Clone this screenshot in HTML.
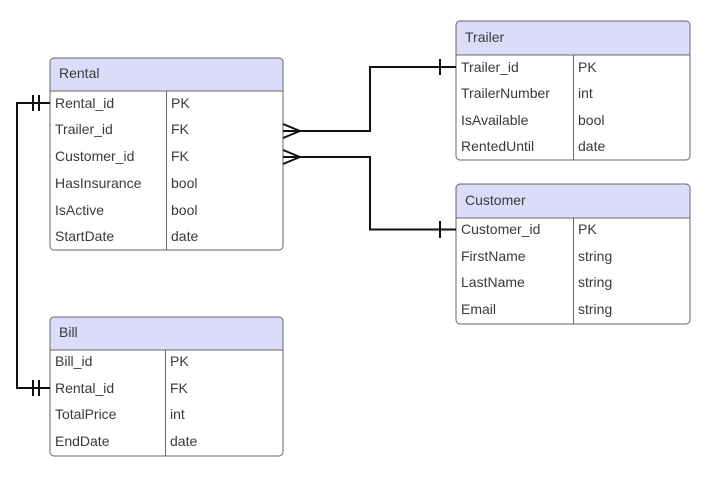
<!DOCTYPE html>
<html><head><meta charset="utf-8"><style>
html,body{margin:0;padding:0;background:#fff;}
svg{display:block;}
text{font-family:"Liberation Sans",sans-serif;font-size:14px;fill:#3a3a3a;}
</style></head><body>
<svg width="707" height="477" viewBox="0 0 707 477" xmlns="http://www.w3.org/2000/svg">
<!-- Rental -->
<g>
<path d="M50,91 V62 a4,4 0 0 1 4,-4 H279 a4,4 0 0 1 4,4 V91 Z" fill="#dcdcfa" stroke="#666"/>
<path d="M50,91 H283 V246 a4,4 0 0 1 -4,4 H54 a4,4 0 0 1 -4,-4 Z" fill="#fff" stroke="#666"/>
<line x1="166.5" y1="91" x2="166.5" y2="250" stroke="#666"/>
<text x="59" y="78">Rental</text>
<text x="55" y="108">Rental_id</text><text x="171" y="108">PK</text>
<text x="55" y="134">Trailer_id</text><text x="171" y="134">FK</text>
<text x="55" y="161">Customer_id</text><text x="171" y="161">FK</text>
<text x="55" y="188">HasInsurance</text><text x="171" y="188">bool</text>
<text x="55" y="215">IsActive</text><text x="171" y="215">bool</text>
<text x="55" y="241">StartDate</text><text x="171" y="241">date</text>
</g>
<!-- Trailer -->
<g>
<path d="M456,55 V25 a4,4 0 0 1 4,-4 H686 a4,4 0 0 1 4,4 V55 Z" fill="#dcdcfa" stroke="#666"/>
<path d="M456,55 H690 V156 a4,4 0 0 1 -4,4 H460 a4,4 0 0 1 -4,-4 Z" fill="#fff" stroke="#666"/>
<line x1="573.5" y1="55" x2="573.5" y2="160" stroke="#666"/>
<text x="465" y="42">Trailer</text>
<text x="461" y="72">Trailer_id</text><text x="578" y="72">PK</text>
<text x="461" y="98">TrailerNumber</text><text x="578" y="98">int</text>
<text x="461" y="125">IsAvailable</text><text x="578" y="125">bool</text>
<text x="461" y="151">RentedUntil</text><text x="578" y="151">date</text>
</g>
<!-- Customer -->
<g>
<path d="M456,218 V188 a4,4 0 0 1 4,-4 H686 a4,4 0 0 1 4,4 V218 Z" fill="#dcdcfa" stroke="#666"/>
<path d="M456,218 H690 V320 a4,4 0 0 1 -4,4 H460 a4,4 0 0 1 -4,-4 Z" fill="#fff" stroke="#666"/>
<line x1="573.5" y1="218" x2="573.5" y2="324" stroke="#666"/>
<text x="465" y="205">Customer</text>
<text x="461" y="234">Customer_id</text><text x="578" y="234">PK</text>
<text x="461" y="261">FirstName</text><text x="578" y="261">string</text>
<text x="461" y="287">LastName</text><text x="578" y="287">string</text>
<text x="461" y="314">Email</text><text x="578" y="314">string</text>
</g>
<!-- Bill -->
<g>
<path d="M50,350 V321 a4,4 0 0 1 4,-4 H279 a4,4 0 0 1 4,4 V350 Z" fill="#dcdcfa" stroke="#666"/>
<path d="M50,350 H283 V452 a4,4 0 0 1 -4,4 H54 a4,4 0 0 1 -4,-4 Z" fill="#fff" stroke="#666"/>
<line x1="165.5" y1="350" x2="165.5" y2="456" stroke="#666"/>
<text x="59" y="337">Bill</text>
<text x="55" y="366">Bill_id</text><text x="170" y="366">PK</text>
<text x="55" y="393">Rental_id</text><text x="170" y="393">FK</text>
<text x="55" y="419">TotalPrice</text><text x="170" y="419">int</text>
<text x="55" y="446">EndDate</text><text x="170" y="446">date</text>
</g>
<!-- connectors -->
<g fill="none" stroke="#111" stroke-width="2">
<path d="M283,131 H370 V67 H456"/>
<path d="M300,131 L283,124 M300,131 L283,138"/>
<line x1="440" y1="59" x2="440" y2="75"/>
<path d="M283,157 H370 V229.5 H456"/>
<path d="M300,157 L283,150 M300,157 L283,164"/>
<line x1="440" y1="221" x2="440" y2="238"/>
<path d="M50,103 H17 V388 H50"/>
<line x1="33" y1="95" x2="33" y2="111"/>
<line x1="39" y1="95" x2="39" y2="111"/>
<line x1="33" y1="380" x2="33" y2="396"/>
<line x1="39" y1="380" x2="39" y2="396"/>
</g>
</svg>
</body></html>
